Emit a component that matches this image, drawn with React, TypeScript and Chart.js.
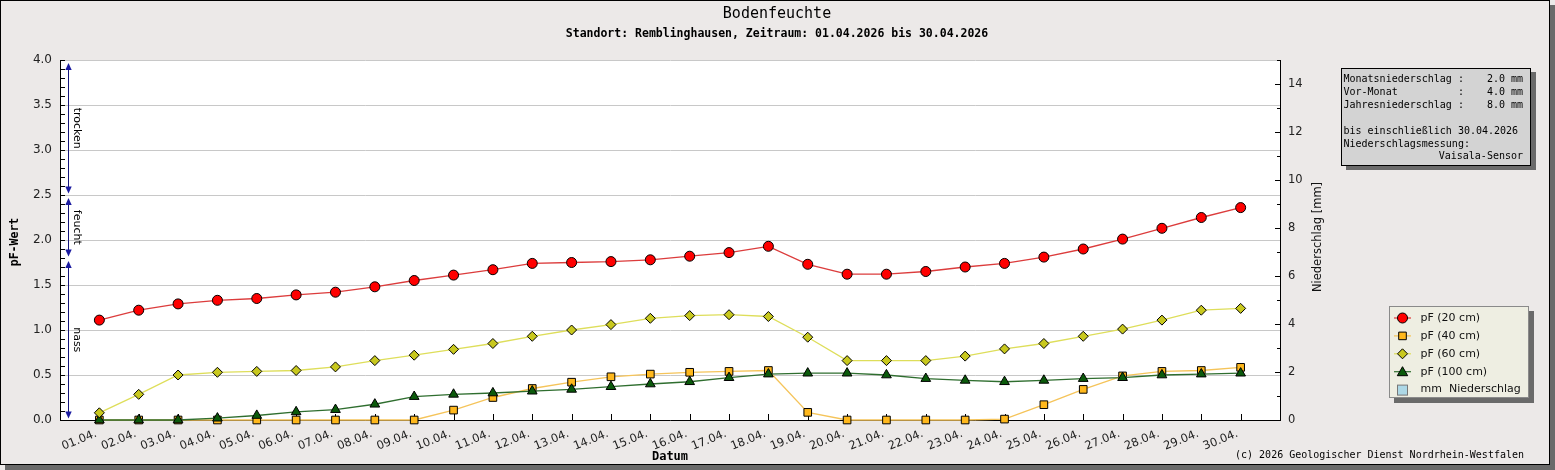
import React, { useEffect, useRef } from 'react';
import { Chart, registerables } from 'chart.js';

Chart.register(...registerables);

// ---------- data ----------
const dates = [
  '01.04.', '02.04.', '03.04.', '04.04.', '05.04.', '06.04.', '07.04.', '08.04.', '09.04.', '10.04.',
  '11.04.', '12.04.', '13.04.', '14.04.', '15.04.', '16.04.', '17.04.', '18.04.', '19.04.', '20.04.',
  '21.04.', '22.04.', '23.04.', '24.04.', '25.04.', '26.04.', '27.04.', '28.04.', '29.04.', '30.04.',
];
const pf20 = [1.11, 1.22, 1.29, 1.33, 1.35, 1.39, 1.42, 1.48, 1.55, 1.61, 1.67, 1.74, 1.75, 1.76, 1.78,
  1.82, 1.86, 1.93, 1.73, 1.62, 1.62, 1.65, 1.70, 1.74, 1.81, 1.90, 2.01, 2.13, 2.25, 2.36];
const pf40 = [0, 0, 0, 0, 0, 0, 0, 0, 0, 0.11, 0.25, 0.35, 0.42, 0.48, 0.51,
  0.53, 0.54, 0.55, 0.085, 0, 0, 0, 0, 0.01, 0.17, 0.34, 0.49, 0.54, 0.55, 0.585];
const pf60 = [0.08, 0.285, 0.50, 0.53, 0.54, 0.55, 0.59, 0.66, 0.72, 0.785, 0.85, 0.93, 1.00, 1.06, 1.13,
  1.16, 1.17, 1.15, 0.92, 0.66, 0.66, 0.66, 0.71, 0.79, 0.85, 0.93, 1.01, 1.11, 1.22, 1.24];
const pf100 = [0, 0, 0, 0.02, 0.05, 0.09, 0.115, 0.175, 0.26, 0.285, 0.30, 0.32, 0.34, 0.37, 0.40,
  0.425, 0.47, 0.51, 0.52, 0.52, 0.50, 0.46, 0.44, 0.425, 0.44, 0.46, 0.47, 0.50, 0.51, 0.52];
const rain = [0, 0, 0, 0, 0, 0, 0, 0, 0, 0, 0, 0, 0, 0, 0, 0, 0, 0, 0, 0, 0, 0, 0, 0, 0, 0, 0, 0, 0, 0];

const zoneNames = ['trocken', 'feucht', 'nass'];
const zoneTop = [4.0, 2.5, 1.8];
const zoneBottom = [2.5, 1.8, 0.0];

const titleText = 'Bodenfeuchte';
const subtitleText = 'Standort: Remblinghausen, Zeitraum: 01.04.2026 bis 30.04.2026';
const xTitle = 'Datum';
const yTitle = 'pF-Wert';
const y1Title = 'Niederschlag [mm]';
const copyright = '(c) 2026 Geologischer Dienst Nordrhein-Westfalen';

const infoLabels = ['Monatsniederschlag :', 'Vor-Monat          :', 'Jahresniederschlag :', '', 'bis einschließlich 30.04.2026', 'Niederschlagsmessung:', ''];
const infoValues = ['2.0 mm', '4.0 mm', '8.0 mm', '', '', '', 'Vaisala-Sensor'];

const seriesLabels = ['pF (20 cm)', 'pF (40 cm)', 'pF (60 cm)', 'pF (100 cm)', 'mm  Niederschlag'];

// ---------- styles ----------
const BG = '#ece9e8';
const MONO = '"DejaVu Sans Mono", monospace';
const SANS = '"DejaVu Sans", sans-serif';
const red = { line: '#dc3c3c', fill: '#ff0000' };
const orange = { line: '#f5c45a', fill: '#ffb81c' };
const yellow = { line: '#dede5a', fill: '#c8c81e' };
const green = { line: '#2f6e2f', fill: '#0b5a0b' };
const rainColor = '#add8e6';

function drawShape(ctx: CanvasRenderingContext2D, kind: string, x: number, y: number, fill: string) {
  ctx.save();
  ctx.fillStyle = fill;
  ctx.strokeStyle = '#000';
  ctx.lineWidth = 1;
  ctx.beginPath();
  if (kind === 'circle') {
    ctx.arc(x, y, 5, 0, Math.PI * 2);
  } else if (kind === 'rect') {
    ctx.rect(x - 3.8, y - 3.8, 7.6, 7.6);
  } else if (kind === 'rectRot') {
    ctx.moveTo(x, y - 5); ctx.lineTo(x + 5, y); ctx.lineTo(x, y + 5); ctx.lineTo(x - 5, y); ctx.closePath();
  } else if (kind === 'triangle') {
    const r = 6;
    ctx.moveTo(x, y - r);
    ctx.lineTo(x + r * Math.sin(2 * Math.PI / 3), y - r * Math.cos(2 * Math.PI / 3));
    ctx.lineTo(x + r * Math.sin(4 * Math.PI / 3), y - r * Math.cos(4 * Math.PI / 3));
    ctx.closePath();
  }
  ctx.fill();
  ctx.stroke();
  ctx.restore();
}

const overlay = {
  id: 'overlay',
  beforeDraw(chart: any) {
    const { ctx, chartArea: a, width, height } = chart;
    ctx.save();
    ctx.fillStyle = '#6a6a6a';
    ctx.fillRect(5, 5, width - 5, height - 5);
    ctx.fillStyle = BG;
    ctx.fillRect(0, 0, 1550, 465);
    ctx.strokeStyle = '#000';
    ctx.lineWidth = 1;
    ctx.strokeRect(0.5, 0.5, 1549, 464);
    ctx.fillStyle = '#ffffff';
    ctx.fillRect(a.left, a.top, a.right - a.left, a.bottom - a.top);
    ctx.restore();
  },
  beforeDatasetsDraw(chart: any) {
    const { ctx, chartArea: a, scales } = chart;
    const ys = scales.y, y1 = scales.y1, xs = scales.x;
    ctx.save();
    ctx.strokeStyle = '#000';
    ctx.lineWidth = 1;
    ctx.beginPath();
    ys.ticks.forEach((t: any) => {
      const py = Math.round(ys.getPixelForValue(t.value)) + 0.5;
      ctx.moveTo(a.left, py); ctx.lineTo(a.left + 5, py);
    });
    y1.ticks.forEach((t: any) => {
      const py = Math.round(y1.getPixelForValue(t.value)) + 0.5;
      const len = t.value % 2 === 0 ? 5 : 3;
      ctx.moveTo(a.right, py); ctx.lineTo(a.right - len, py);
    });
    xs.ticks.forEach((t: any) => {
      if (t.value < 1 || t.value > dates.length) return;
      const px = Math.round(xs.getPixelForValue(t.value)) + 0.5;
      ctx.moveTo(px, a.bottom); ctx.lineTo(px, a.bottom - 6);
    });
    ctx.stroke();

    // zone arrows
    const ax = a.left + 8.5;
    zoneNames.forEach((name, i) => {
      const top = ys.getPixelForValue(zoneTop[i]) + 3;
      const bot = ys.getPixelForValue(zoneBottom[i]) - 1.5;
      ctx.strokeStyle = '#14147a';
      ctx.lineWidth = 1;
      ctx.beginPath();
      ctx.moveTo(ax, top + 4); ctx.lineTo(ax, bot - 4);
      ctx.stroke();
      ctx.fillStyle = '#1a1aa0';
      ctx.beginPath();
      ctx.moveTo(ax, top); ctx.lineTo(ax + 3.2, top + 7); ctx.lineTo(ax - 3.2, top + 7); ctx.closePath();
      ctx.fill();
      ctx.beginPath();
      ctx.moveTo(ax, bot); ctx.lineTo(ax + 3.2, bot - 7); ctx.lineTo(ax - 3.2, bot - 7); ctx.closePath();
      ctx.fill();
      ctx.save();
      ctx.translate(ax + 8.5, (top + bot) / 2);
      ctx.rotate(Math.PI / 2);
      ctx.fillStyle = '#000';
      ctx.font = `11px ${SANS}`;
      ctx.textAlign = 'center';
      ctx.textBaseline = 'middle';
      ctx.fillText(name, 0, 0);
      ctx.restore();
    });
    ctx.restore();
  },
  afterDraw(chart: any) {
    const { ctx } = chart;
    ctx.save();
    ctx.fillStyle = '#000';
    ctx.textBaseline = 'middle';
    ctx.textAlign = 'center';
    ctx.font = `15px ${MONO}`;
    ctx.fillText(titleText, 777, 14);
    ctx.font = `bold 11.5px ${MONO}`;
    ctx.fillText(subtitleText, 777, 34);
    ctx.font = `bold 12px ${MONO}`;
    ctx.fillText(xTitle, 670, 457);
    ctx.save();
    ctx.translate(15, 242);
    ctx.rotate(-Math.PI / 2);
    ctx.font = `bold 11.5px ${MONO}`;
    ctx.fillText(yTitle, 0, 0);
    ctx.restore();
    ctx.save();
    ctx.translate(1318, 237);
    ctx.rotate(-Math.PI / 2);
    ctx.font = `11.5px ${SANS}`;
    ctx.fillStyle = '#111';
    ctx.fillText(y1Title, 0, 0);
    ctx.restore();
    ctx.textAlign = 'right';
    ctx.font = `10px ${MONO}`;
    ctx.fillText(copyright, 1524, 455);

    // info box
    ctx.fillStyle = '#6a6a6a';
    ctx.fillRect(1346, 72, 190, 98);
    ctx.fillStyle = '#d3d3d3';
    ctx.fillRect(1341, 68, 190, 98);
    ctx.strokeStyle = '#000';
    ctx.lineWidth = 1;
    ctx.strokeRect(1341.5, 68.5, 189, 97);
    ctx.fillStyle = '#000';
    ctx.font = `10px ${MONO}`;
    infoLabels.forEach((lab, i) => {
      const yy = 79.5 + i * 12.9;
      if (lab) { ctx.textAlign = 'left'; ctx.fillText(lab, 1343.5, yy); }
      if (infoValues[i]) { ctx.textAlign = 'right'; ctx.fillText(infoValues[i], 1523, yy); }
    });

    // legend
    ctx.fillStyle = '#6a6a6a';
    ctx.fillRect(1394, 311, 140, 92);
    ctx.fillStyle = '#eeeee2';
    ctx.fillRect(1389, 306, 140, 92);
    ctx.strokeStyle = '#8a8a8a';
    ctx.strokeRect(1389.5, 306.5, 139, 91);
    const kinds = ['circle', 'rect', 'rectRot', 'triangle'];
    const cols = [red, orange, yellow, green];
    seriesLabels.forEach((lab, i) => {
      const yy = 318 + i * 17.9;
      if (i < 4) {
        ctx.strokeStyle = cols[i].line;
        ctx.lineWidth = 1.2;
        ctx.beginPath();
        ctx.moveTo(1394, yy); ctx.lineTo(1411, yy);
        ctx.stroke();
        drawShape(ctx, kinds[i], 1402.5, yy + (i === 3 ? 1 : 0), cols[i].fill);
      } else {
        ctx.fillStyle = rainColor;
        ctx.fillRect(1397.5, yy - 4.5, 10, 10);
        ctx.strokeStyle = '#777';
        ctx.lineWidth = 1;
        ctx.strokeRect(1397.5, yy - 4.5, 10, 10);
      }
      ctx.fillStyle = '#111';
      ctx.textAlign = 'left';
      ctx.font = `11px ${SANS}`;
      ctx.fillText(lab, 1420.5, yy);
    });
    ctx.restore();
  },
};

const isMajor = (v: number) => Math.abs(v * 2 - Math.round(v * 2)) < 1e-6;

export default function App() {
  const ref = useRef<HTMLCanvasElement>(null);
  useEffect(() => {
    if (!ref.current) return;
    const pts = (arr: number[]) => arr.map((v, i) => ({ x: i + 1, y: v }));
    const lineDs = (label: string, data: number[], col: any, style: string, radius: number, order: number) => ({
      type: 'line' as const,
      label,
      data: pts(data),
      borderColor: col.line,
      borderWidth: 1.3,
      pointStyle: style,
      pointRadius: radius,
      pointBackgroundColor: col.fill,
      pointBorderColor: '#000',
      pointBorderWidth: 1,
      yAxisID: 'y',
      clip: false as any,
      order,
      tension: 0,
    });
    const chart = new Chart(ref.current, {
      type: 'line',
      data: {
        datasets: [
          lineDs(seriesLabels[0], pf20, red, 'circle', 5, 1),
          lineDs(seriesLabels[1], pf40, orange, 'rect', 5.4, 4),
          lineDs(seriesLabels[2], pf60, yellow, 'rectRot', 5, 2),
          lineDs(seriesLabels[3], pf100, green, 'triangle', 5.6, 3),
          {
            type: 'bar' as const,
            label: seriesLabels[4],
            data: pts(rain),
            backgroundColor: rainColor,
            borderColor: '#777',
            borderWidth: 1,
            yAxisID: 'y1',
            order: 10,
          } as any,
        ],
      },
      options: {
        animation: false,
        responsive: false,
        devicePixelRatio: 1,
        events: [],
        layout: { padding: { top: 60, left: 0, right: 0, bottom: 0 } },
        plugins: { legend: { display: false }, title: { display: false }, tooltip: { enabled: false } },
        scales: {
          x: {
            type: 'linear',
            offset: false,
            min: 0,
            max: dates.length + 1,
            afterFit: (s: any) => { s.height = 50; },
            grid: { color: 'rgba(0,0,0,0)', drawTicks: false, offset: false },
            border: { display: true, color: '#000', width: 1 },
            ticks: {
              stepSize: 1,
              autoSkip: false,
              maxRotation: 22,
              minRotation: 22,
              padding: 7,
              labelOffset: -3,
              color: '#222',
              font: { family: SANS, size: 11.5 },
              callback: (v: any) => dates[Number(v) - 1] ?? '',
            },
          },
          y: {
            type: 'linear',
            position: 'left',
            min: 0,
            max: 4,
            afterFit: (s: any) => { s.width = 60; },
            grid: {
              color: (c: any) => (c.tick && isMajor(c.tick.value) ? '#c8c8c8' : 'rgba(0,0,0,0)'),
              drawTicks: false,
              lineWidth: 1,
            },
            border: { display: true, color: '#000', width: 1 },
            ticks: {
              stepSize: 0.1,
              autoSkip: false,
              padding: 8,
              color: '#222',
              font: { family: SANS, size: 12 },
              callback: (v: any) => (isMajor(Number(v)) ? Number(v).toFixed(1) : ''),
            },
          },
          y1: {
            type: 'linear',
            position: 'right',
            min: 0,
            max: 15,
            afterFit: (s: any) => { s.width = 275; },
            grid: { color: 'rgba(0,0,0,0)', drawTicks: false, drawOnChartArea: false },
            border: { display: true, color: '#000', width: 1 },
            ticks: {
              stepSize: 1,
              autoSkip: false,
              padding: 8,
              color: '#222',
              font: { family: SANS, size: 11.5 },
              callback: (v: any) => (Number(v) % 2 === 0 ? String(v) : ''),
            },
          },
        },
      } as any,
      plugins: [overlay],
    });
    return () => chart.destroy();
  }, []);
  return (
    <div style={{ position: 'fixed', left: 0, top: 0, width: 1555, height: 470, background: BG }}>
      <canvas ref={ref} width={1555} height={470} style={{ display: 'block', width: 1555, height: 470 }} />
    </div>
  );
}
